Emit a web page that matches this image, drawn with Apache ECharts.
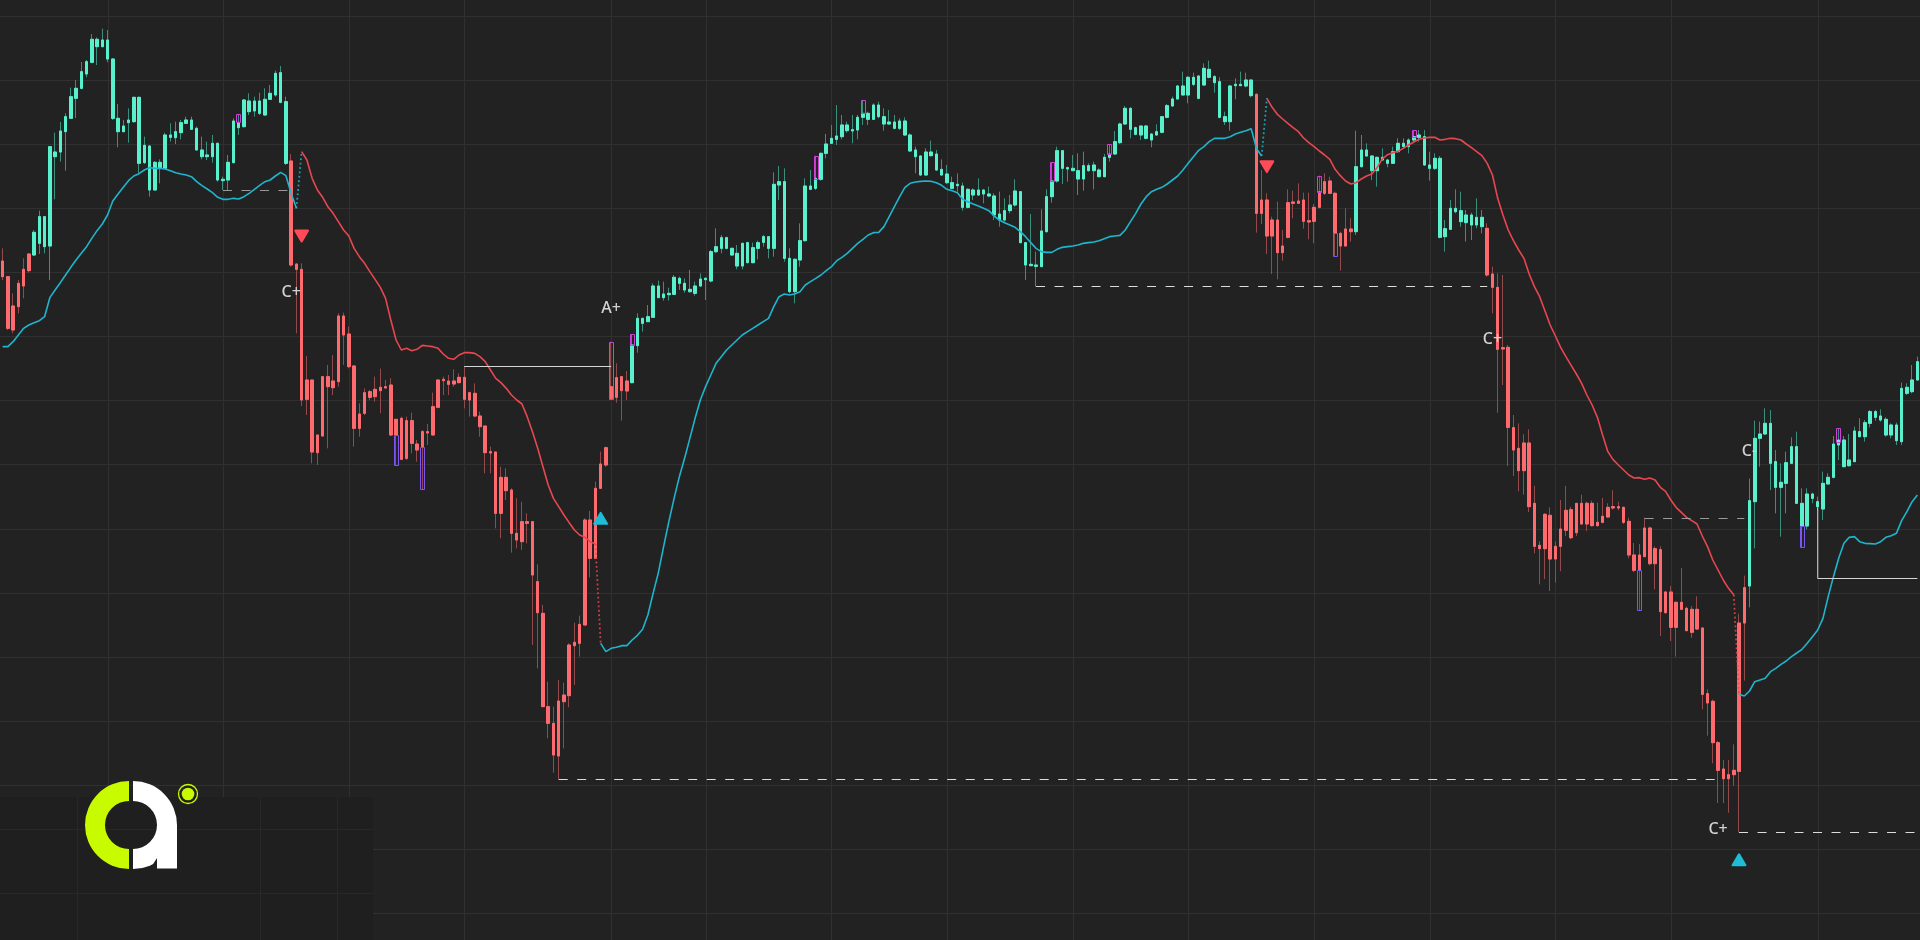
<!DOCTYPE html>
<html>
<head>
<meta charset="utf-8">
<script src="https://cdn.jsdelivr.net/npm/echarts@6/dist/echarts.min.js"></script>
<style>
html,body{margin:0;padding:0;background:#222222;overflow:hidden;}
#chart{width:1920px;height:940px;}
</style>
</head>
<body>
<div id="chart"></div>
<script>
// ---------------- DATA ----------------
// candles: [open, close, low, high]
const ohlc = [
[2217,2170,2160,2255],[2170,2015,2010,2170],[2082,2010,2000,2120],[2150,2080,2060,2160],[2192,2142,2105,2225],[2238,2188,2182,2240],
[2235,2303,2232,2310],[2270,2350,2238,2368],[2260,2350,2240,2352],[2262,2560,2160,2560],[2530,2544,2402,2602],[2544,2607,2515,2634],
[2605,2650,2488,2660],[2645,2710,2644,2737],[2705,2735,2646,2760],[2735,2785,2732,2814],[2778,2815,2768,2820],[2813,2882,2810,2898],
[2860,2882,2805,2888],[2860,2880,2858,2914],[2823,2880,2813,2910],[2645,2823,2640,2825],[2605,2645,2558,2688],[2605,2622,2603,2640],
[2632,2640,2572,2675],[2635,2708,2632,2710],[2510,2708,2480,2710],[2512,2564,2508,2590],[2430,2562,2410,2564],[2430,2513,2428,2517],
[2495,2513,2450,2522],[2495,2595,2492,2602],[2588,2595,2575,2630],[2587,2605,2568,2635],[2602,2632,2582,2640],[2630,2640,2628,2650],
[2612,2640,2610,2650],[2550,2615,2550,2620],[2530,2550,2522,2590],[2530,2535,2520,2575],[2530,2570,2512,2595],[2460,2570,2455,2572],
[2458,2462,2430,2470],[2460,2513,2430,2535],[2512,2637,2510,2645],[2617,2633,2595,2657],[2620,2700,2618,2703],[2665,2697,2655,2720],
[2667,2697,2650,2710],[2660,2697,2655,2722],[2655,2702,2653,2735],[2702,2720,2700,2745],[2715,2780,2710,2788],[2693,2782,2690,2802],
[2510,2695,2505,2710],[2517,2205,2200,2538],[2208,2192,2000,2210],[2192,1800,1782,2210],[1860,1802,1755,1932],[1860,1644,1610,1860],
[1695,1642,1605,1695],[1870,1692,1690,1870],[1870,1840,1655,1905],[1857,1837,1815,1935],[2052,1855,1840,2060],[2052,1995,1905,2062],
[1998,1900,1895,2020],[1902,1715,1660,1905],[1758,1715,1690,1790],[1822,1760,1755,1835],[1825,1808,1800,1830],[1832,1810,1795,1870],
[1838,1828,1760,1894],[1840,1836,1835,1860],[1845,1695,1692,1865],[1742,1695,1605,1742],[1745,1622,1620,1750],[1738,1625,1620,1750],
[1738,1670,1640,1762],[1668,1650,1615,1680],[1705,1660,1533,1710],[1705,1701,1665,1728],[1780,1695,1695,1822],[1860,1778,1775,1862],
[1862,1858,1815,1870],[1857,1847,1815,1875],[1857,1848,1840,1892],[1868,1852,1850,1880],[1868,1802,1775,1902],[1822,1800,1750,1825],
[1820,1752,1748,1850],[1752,1720,1690,1765],[1722,1642,1580,1722],[1645,1641,1580,1660],[1644,1460,1415,1644],[1568,1460,1385,1600],
[1568,1528,1500,1595],[1530,1400,1342,1535],[1400,1380,1355,1505],[1435,1375,1350,1495],[1435,1430,1370,1460],[1435,1275,1065,1435],
[1255,1162,995,1307],[1160,880,880,1185],[880,830,785,955],[830,735,682,880],[897,732,662,960],[915,895,755,952],
[1065,913,878,1070],[1073,1063,945,1132],[1127,1070,1030,1153],[1440,1125,1125,1445],[1440,1325,1268,1467],[1535,1325,1325,1555],
[1608,1535,1535,1645],[1657,1605,1600,1660],[1840,1805,1800,1975],[1867,1808,1792,1910],[1870,1828,1738,1870],[1857,1827,1800,1887],
[1852,1965,1850,1998],[1963,2045,1942,2060],[2030,2045,2005,2045],[2035,2050,2035,2085],[2048,2142,2048,2150],[2107,2142,2107,2158],
[2107,2118,2098,2155],[2116,2120,2098,2137],[2117,2168,2115,2175],[2150,2165,2130,2170],[2130,2150,2122,2165],[2125,2132,2122,2190],
[2120,2142,2113,2155],[2142,2163,2140,2180],[2161,2165,2100,2168],[2157,2245,2153,2250],[2245,2260,2240,2315],[2255,2287,2240,2295],
[2255,2287,2252,2290],[2235,2255,2232,2257],[2202,2240,2192,2265],[2202,2270,2192,2272],[2212,2272,2210,2275],[2212,2257,2210,2272],
[2255,2272,2222,2278],[2273,2290,2260,2295],[2255,2290,2225,2292],[2255,2447,2230,2483],[2445,2455,2400,2502],[2225,2455,2215,2495],
[2125,2225,2120,2255],[2125,2222,2090,2225],[2220,2278,2200,2330],[2278,2442,2275,2465],[2432,2442,2430,2490],[2435,2465,2430,2533],
[2462,2540,2458,2542],[2540,2568,2525,2598],[2570,2585,2568,2625],[2582,2592,2565,2685],[2590,2625,2582,2655],[2608,2625,2602,2635],
[2607,2611,2570,2655],[2610,2648,2582,2655],[2648,2660,2625,2700],[2642,2660,2625,2665],[2642,2685,2640,2690],[2650,2685,2645,2695],
[2628,2650,2608,2675],[2628,2634,2625,2670],[2615,2634,2612,2655],[2615,2637,2610,2645],[2595,2637,2592,2648],[2547,2595,2545,2600],
[2530,2550,2480,2560],[2475,2532,2472,2535],[2475,2544,2472,2555],[2533,2544,2530,2578],[2490,2538,2487,2550],[2475,2492,2472,2522],
[2452,2478,2448,2505],[2435,2452,2432,2470],[2443,2447,2425,2480],[2378,2442,2368,2452],[2378,2432,2375,2435],[2415,2430,2400,2435],
[2415,2430,2412,2465],[2418,2430,2390,2432],[2412,2418,2408,2440],[2355,2412,2340,2420],[2340,2358,2320,2425],[2340,2368,2335,2405],
[2368,2385,2360,2415],[2385,2427,2380,2462],[2272,2425,2270,2425],[2205,2272,2160,2272],[2203,2207,2202,2358],[2201,2205,2140,2245],
[2200,2307,2200,2372],[2305,2410,2302,2432],[2410,2457,2392,2513],[2457,2548,2452,2560],[2495,2548,2448,2548],[2493,2497,2455,2500],
[2488,2495,2488,2535],[2463,2488,2415,2540],[2463,2503,2428,2545],[2488,2503,2485,2510],[2488,2505,2432,2515],[2470,2490,2468,2495],
[2470,2528,2468,2538],[2528,2538,2515,2568],[2538,2575,2535,2607],[2572,2628,2568,2632],[2628,2675,2625,2682],[2612,2675,2585,2678],
[2597,2617,2594,2620],[2595,2622,2580,2622],[2585,2622,2582,2625],[2580,2598,2558,2600],[2595,2605,2592,2627],[2603,2650,2600,2652],
[2648,2683,2645,2688],[2682,2703,2680,2710],[2703,2742,2702,2745],[2715,2742,2715,2785],[2715,2768,2690,2772],[2747,2768,2742,2782],
[2705,2772,2702,2775],[2745,2795,2742,2810],[2768,2792,2765,2818],[2752,2770,2722,2775],[2648,2755,2645,2768],[2635,2650,2625,2665],
[2635,2742,2608,2745],[2743,2747,2702,2765],[2743,2747,2742,2785],[2742,2760,2738,2782],[2713,2760,2708,2762],[2717,2360,2302,2720],
[2400,2360,2328,2490],[2400,2292,2238,2420],[2340,2292,2178,2350],[2340,2242,2162,2395],[2262,2242,2218,2310],[2392,2288,2285,2432],
[2394,2390,2345,2428],[2397,2390,2388,2450],[2400,2336,2314,2422],[2338,2334,2282,2422],[2378,2336,2270,2388],[2425,2378,2375,2473],
[2455,2420,2415,2480],[2457,2420,2418,2470],[2420,2300,2232,2425],[2300,2262,2188,2305],[2313,2262,2260,2375],[2313,2305,2275,2345],
[2305,2500,2295,2608],[2500,2550,2497,2595],[2532,2550,2530,2570],[2488,2532,2460,2535],[2488,2528,2440,2530],[2520,2528,2518,2555],
[2510,2520,2498,2522],[2510,2545,2508,2560],[2545,2570,2542,2585],[2560,2570,2558,2585],[2560,2580,2540,2585],[2580,2590,2570,2610],
[2588,2595,2575,2610],[2505,2590,2502,2610],[2495,2505,2458,2545],[2495,2525,2490,2540],[2288,2525,2285,2532],[2290,2314,2245,2340],
[2312,2375,2310,2400],[2365,2375,2360,2432],[2335,2368,2320,2425],[2332,2355,2275,2370],[2325,2355,2280,2362],[2325,2348,2315,2405],
[2320,2348,2300,2370],[2315,2175,2170,2330],[2178,2138,2060,2200],[2138,1952,1762,2180],[1957,1953,1845,2175],[1958,1718,1602,1965],
[1717,1650,1572,1755],[1655,1588,1526,1730],[1671,1588,1516,1697],[1671,1480,1464,1712],[1490,1361,1340,1542],[1364,1354,1247,1376],
[1457,1354,1263,1461],[1454,1323,1227,1478],[1361,1323,1252,1376],[1413,1361,1286,1500],[1469,1409,1392,1542],[1471,1387,1382,1480],
[1490,1402,1392,1490],[1490,1428,1426,1516],[1490,1428,1407,1495],[1490,1423,1420,1498],[1433,1423,1420,1492],[1451,1433,1430,1506],
[1478,1449,1447,1490],[1480,1476,1471,1529],[1480,1476,1469,1495],[1478,1433,1428,1480],[1436,1335,1325,1447],[1335,1289,1283,1371],
[1335,1289,1168,1368],[1416,1330,1330,1447],[1416,1309,1304,1420],[1354,1309,1232,1361],[1351,1165,1092,1361],[1224,1162,1159,1227],
[1224,1118,1077,1242],[1193,1118,1030,1196],[1193,1172,1170,1296],[1175,1108,1106,1180],[1172,1103,1087,1182],[1172,1113,1110,1211],
[1116,917,872,1118],[919,891,793,932],[896,772,710,901],[772,689,591,777],[693,664,591,720],[676,664,562,720],
[689,676,643,767],[1131,686,503,1159],[1237,1131,958,1273],[1242,1498,1178,1564],[1495,1685,1355,1738],[1685,1698,1600,1735],
[1698,1730,1695,1775],[1610,1730,1530,1770],[1538,1615,1460,1650],[1538,1553,1390,1610],[1550,1612,1460,1645],[1610,1660,1610,1688],
[1490,1660,1490,1705],[1422,1490,1358,1535],[1422,1518,1412,1535],[1505,1518,1490,1522],[1480,1495,1470,1510],[1473,1550,1440,1585],
[1548,1568,1548,1580],[1568,1668,1565,1692],[1665,1680,1620,1715],[1600,1680,1598,1692],[1603,1620,1600,1698],[1615,1707,1615,1720],
[1690,1705,1688,1745],[1690,1732,1675,1740],[1730,1765,1718,1770],[1748,1765,1738,1770],[1740,1752,1735,1772],[1695,1742,1690,1748],
[1695,1725,1685,1730],[1678,1725,1665,1732],[1675,1835,1665,1852],[1820,1838,1815,1850],[1825,1860,1820,1905],[1860,1915,1858,1930]
];

// lower (cyan) trailing band, segments by start index
const lowerBandSegments = [
  {start: 0, values: [1960,1960,1975,1995,2015,2025,2032,2038,2050,2107,2130,2152,2175,2198,2220,2240,2260,2285,2308,2328,
    2355,2397,2418,2438,2458,2472,2479,2490,2497,2495,2495,2493,2488,2482,2478,2475,2470,2455,2443,2433,
    2422,2408,2402,2402,2405,2403,2410,2420,2432,2444,2455,2460,2472,2483,2473,2420,2375]},
  {start: 114, values: [1070,1045,1055,1058,1063,1063,1080,1094,1112,1155,1220,1282,1360,1435,1505,1570,1625,1685,1745,1800,
    1840,1875,1910,1930,1950,1965,1980,1995,2005,2015,2025,2035,2045,2080,2110,2118,2115,2118,2125,2145,
    2155,2165,2175,2188,2200,2218,2228,2240,2255,2270,2282,2295,2302,2303,2320,2350,2380,2410,2438,2450,
    2454,2456,2457,2456,2452,2444,2432,2428,2422,2402,2395,2388,2382,2375,2368,2352,2340,2332,2325,2318,
    2305,2290,2272,2255,2245,2243,2243,2252,2258,2260,2262,2265,2270,2272,2274,2278,2284,2290,2292,2294,
    2310,2335,2360,2388,2410,2425,2432,2438,2448,2460,2472,2490,2510,2530,2549,2560,2575,2585,2585,2585,
    2590,2598,2603,2608,2614,2555,2532]},
  {start: 331, values: [917,912,927,955,960,965,985,995,1007,1017,1030,1041,1052,1070,1090,1110,1145,1210,1270,1325,
    1370,1388,1390,1375,1370,1369,1368,1375,1388,1393,1400,1438,1465,1495,1515]}
];
// upper (red) trailing band
const upperBandSegments = [
  {start: 57, values: [2545,2520,2465,2430,2408,2380,2360,2335,2310,2292,2255,2230,2210,2185,2162,2138,2105,2040,1980,1950,
    1955,1948,1952,1964,1962,1960,1955,1938,1925,1922,1935,1942,1942,1940,1930,1915,1890,1865,1852,1835,
    1815,1800,1788,1750,1705,1655,1600,1545,1505,1480,1455,1432,1410,1395,1388,1375,1368]},
  {start: 241, values: [2705,2678,2657,2643,2630,2617,2605,2586,2572,2560,2547,2535,2522,2492,2473,2457,2448,2452,2463,2472,
    2478,2497,2523,2536,2542,2546,2555,2565,2574,2582,2586,2588,2588,2580,2582,2585,2584,2580,2568,2557,
    2545,2533,2510,2475,2405,2355,2310,2278,2250,2225,2178,2140,2110,2068,2025,1992,1958,1930,1904,1878,
    1850,1815,1785,1748,1695,1645,1621,1605,1590,1575,1566,1567,1562,1566,1560,1538,1526,1500,1478,1463,
    1448,1438,1428,1392,1360,1320,1290,1260,1235,1216]}
];

// highlighted wick boxes: [index, top, bottom, side] side 'up' = upper wick (magenta), 'down' = lower wick (purple)
const wickBoxes = [
  [45,2657,2632,'up'],[75,1695,1605,'down'],[80,1660,1533,'down'],[116,1975,1805,'up'],[120,1998,1965,'up'],
  [155,2533,2465,'up'],[164,2700,2660,'up'],[200,2513,2457,'up'],[211,2568,2538,'up'],[251,2473,2425,'up'],
  [254,2300,2232,'down'],[269,2610,2590,'up'],[312,1289,1168,'down'],[343,1422,1358,'down'],[350,1715,1672,'up']
];

// horizontal levels: polylines of [index, price]
const levels = [
  {pts: [[42,2430],[55,2430]], kind: 'dim'},
  {pts: [[88,1903],[116,1903]], kind: 'solid'},
  {pts: [[106,662],[327,662]], kind: 'dash'},
  {pts: [[197,2142],[283,2142]], kind: 'dash'},
  {pts: [[313,1447],[332,1447]], kind: 'dim'},
  {pts: [[331,503],[365,503]], kind: 'dash'},
  {pts: [[346,1480],[346,1265],[365,1265]], kind: 'solid'}
];

const sellSignals = [[57,2292],[241,2500]];
const buySignals  = [[114,1445],[331,421]];
const tags = [[55,2123,'C+'],[116,2075,'A+'],[284,1982,'C+'],[327,512,'C+'],[333,1645,'C-']];

const monthStarts = [20,42,66,88,116,134,158,180,204,226,250,272,296,318,346];
const priceGrid = [261,453,646,838,1030,1222,1414,1607,1799,1991,2183,2375,2568,2760,2952];

// ---------------- BUILD ----------------
const N = ohlc.length;
const categories = ohlc.map((_, i) => String(i));
function buildBand(segs) {
  const a = new Array(N).fill(null);
  segs.forEach(s => s.values.forEach((v, k) => { a[s.start + k] = v; }));
  return a;
}
const lower = buildBand(lowerBandSegments);
const upper = buildBand(upperBandSegments);

const UP = '#58f0cd', DOWN = '#ff6a6e';
const UP_WICK = '#3b8f7c', DOWN_WICK = '#934a4d';
const CYAN = '#1fb5cd', RED = '#e8474f';
const GRID = '#303030';

const connectors = [];
for (let i = 0; i < N - 1; i++) {
  if (lower[i] != null && lower[i + 1] == null && upper[i + 1] != null) connectors.push([i, lower[i], i + 1, upper[i + 1], 0]);
  if (upper[i] != null && upper[i + 1] == null && lower[i + 1] != null) connectors.push([i, upper[i], i + 1, lower[i + 1], 1]);
}
const bodies = ohlc.map(d => [d[0], d[1], Math.min(d[0], d[1]), Math.max(d[0], d[1])]);

const triPath = 'path://M44,6 Q50,-2 56,6 L97,78 Q101,88 90,88 L10,88 Q-1,88 3,78 Z';

const chart = echarts.init(document.getElementById('chart'), null, {renderer: 'canvas'});
chart.setOption({
  backgroundColor: '#222222',
  animation: false,
  grid: {left: 0, right: 0, top: 0, bottom: 0, containLabel: false},
  xAxis: {type: 'category', data: categories, boundaryGap: true, show: false},
  yAxis: {type: 'value', min: 180, max: 3000, show: false, scale: true},
  series: [
    { // vertical grid
      type: 'custom', z: 0, silent: true, data: monthStarts.map(i => [i]), encode: {x: 0},
      renderItem: (p, api) => {
        const x = Math.round(api.coord([api.value(0), 1000])[0]) + 0.5;
        const cs = p.coordSys;
        return {type: 'line', shape: {x1: x, y1: cs.y, x2: x, y2: cs.y + cs.height}, style: {stroke: GRID, lineWidth: 1}};
      }
    },
    { // horizontal grid
      type: 'custom', z: 0, silent: true, data: priceGrid.map(v => [0, v]), encode: {x: 0, y: 1},
      renderItem: (p, api) => {
        const y = Math.round(api.coord([0, api.value(1)])[1]) + 0.5;
        const cs = p.coordSys;
        return {type: 'line', shape: {x1: cs.x, y1: y, x2: cs.x + cs.width, y2: y}, style: {stroke: GRID, lineWidth: 1}};
      }
    },
    { // wicks
      type: 'candlestick', z: 2, silent: true, data: ohlc, barWidth: 3,
      itemStyle: {color: UP_WICK, color0: DOWN_WICK, borderColor: UP_WICK, borderColor0: DOWN_WICK, borderWidth: 1}
    },
    { // bodies
      type: 'candlestick', z: 3, silent: true, data: bodies, barWidth: 3,
      itemStyle: {color: UP, color0: DOWN, borderColor: UP, borderColor0: DOWN, borderWidth: 1}
    },
    { // wick boxes
      type: 'custom', z: 4, silent: true, data: wickBoxes.map(b => [b[0], b[1], b[2], b[3] === 'up' ? 0 : 1]),
      encode: {x: 0, y: [1, 2]},
      renderItem: (p, api) => {
        const i = api.value(0);
        const a = api.coord([i, api.value(1)]), b = api.coord([i, api.value(2)]);
        const x = Math.round(a[0] - 2.2) + 0.5;
        return {type: 'rect', shape: {x: x, y: Math.round(a[1]) + 0.5, width: 4, height: Math.round(b[1] - a[1])},
          style: {fill: 'none', stroke: api.value(3) === 0 ? '#d23fd8' : '#7b57f2', lineWidth: 1}};
      }
    },
    {
      type: 'line', z: 5, silent: true, data: lower, connectNulls: false, showSymbol: false, symbol: 'none',
      lineStyle: {color: CYAN, width: 1.6}
    },
    {
      type: 'line', z: 5, silent: true, data: upper, connectNulls: false, showSymbol: false, symbol: 'none',
      lineStyle: {color: RED, width: 1.6}
    },
    { // dotted connectors
      type: 'custom', z: 5, silent: true, data: connectors, encode: {x: 0, y: 1},
      renderItem: (p, api) => {
        const a = api.coord([api.value(0), api.value(1)]), b = api.coord([api.value(2), api.value(3)]);
        return {type: 'line', shape: {x1: a[0], y1: a[1], x2: b[0], y2: b[1]},
          style: {stroke: api.value(4) === 0 ? CYAN : RED, lineWidth: 1.8, lineDash: [1.8, 2.6], opacity: 0.85}};
      }
    },
    { // levels
      type: 'custom', z: 6, silent: true, data: levels.map((l, k) => [l.pts[0][0], l.pts[0][1], k]), encode: {x: 0, y: 1},
      renderItem: (p, api) => {
        const lv = levels[api.value(2)];
        const pts = lv.pts.map(pt => { const c = api.coord(pt); return [c[0], Math.round(c[1]) + 0.5]; });
        const style = lv.kind === 'solid'
          ? {stroke: '#d6d6d6', lineWidth: 1, fill: 'none'}
          : {stroke: lv.kind === 'dim' ? '#9a9a9a' : '#dcdcdc', lineWidth: 1.2, lineDash: [9, 9.5], fill: 'none'};
        return {type: 'polyline', shape: {points: pts}, style: style};
      }
    },
    {
      type: 'scatter', z: 7, silent: true, data: sellSignals, symbol: triPath, symbolSize: [15, 13], symbolRotate: 180,
      itemStyle: {color: '#ff4b58', opacity: 1}
    },
    {
      type: 'scatter', z: 7, silent: true, data: buySignals, symbol: triPath, symbolSize: [15, 13],
      itemStyle: {color: '#1fbcd6', opacity: 1}
    },
    { // tags
      type: 'custom', z: 8, silent: true, data: tags.map(t => [t[0], t[1]]), encode: {x: 0, y: 1},
      renderItem: (p, api) => {
        const c = api.coord([api.value(0), api.value(1)]);
        return {type: 'text', x: c[0], y: c[1],
          style: {text: tags[p.dataIndex][2], fill: '#d2d2d2', font: '500 16px "Noto Sans", sans-serif', align: 'center', verticalAlign: 'middle'}};
      }
    }
  ],
  graphic: [
    {type: 'rect', z: 100, silent: true, shape: {x: 0, y: 797, width: 373, height: 143}, style: {fill: '#1f1f1f'}},
    {type: 'line', z: 101, silent: true, shape: {x1: 0, y1: 829.5, x2: 373, y2: 829.5}, style: {stroke: '#282828', lineWidth: 1}},
    {type: 'line', z: 101, silent: true, shape: {x1: 0, y1: 893.5, x2: 373, y2: 893.5}, style: {stroke: '#282828', lineWidth: 1}},
    {type: 'line', z: 101, silent: true, shape: {x1: 77.5, y1: 797, x2: 77.5, y2: 940}, style: {stroke: '#282828', lineWidth: 1}},
    {type: 'line', z: 101, silent: true, shape: {x1: 260.5, y1: 797, x2: 260.5, y2: 940}, style: {stroke: '#282828', lineWidth: 1}},
    {type: 'line', z: 101, silent: true, shape: {x1: 337.5, y1: 797, x2: 337.5, y2: 940}, style: {stroke: '#282828', lineWidth: 1}},
    {type: 'sector', z: 102, silent: true, shape: {cx: 129, cy: 825, r: 44, r0: 24, startAngle: Math.PI / 2, endAngle: Math.PI * 1.5, clockwise: true}, style: {fill: '#c8fa00'}},
    {type: 'sector', z: 102, silent: true, shape: {cx: 133, cy: 825, r: 44, r0: 24, startAngle: -Math.PI / 2, endAngle: Math.PI / 2, clockwise: true}, style: {fill: '#ffffff'}},
    {type: 'rect', z: 102, silent: true, shape: {x: 157, y: 825, width: 20, height: 43.5}, style: {fill: '#ffffff'}},
    {type: 'polygon', z: 103, silent: true, shape: {points: [[150, 869], [157, 869], [157, 858]]}, style: {fill: '#1f1f1f'}},
    {type: 'circle', z: 102, silent: true, shape: {cx: 188, cy: 794, r: 9.5}, style: {fill: 'none', stroke: '#c8fa00', lineWidth: 1.3}},
    {type: 'circle', z: 102, silent: true, shape: {cx: 188, cy: 794, r: 6.3}, style: {fill: '#c8fa00'}}
  ]
});
</script>
</body>
</html>
